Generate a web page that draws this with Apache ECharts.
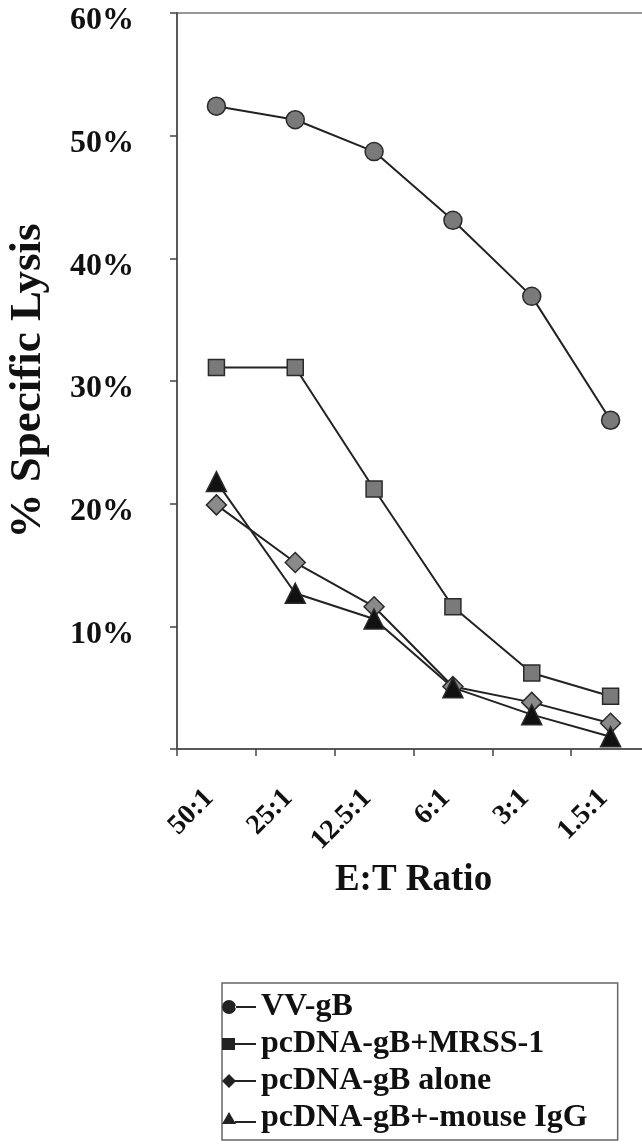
<!DOCTYPE html>
<html>
<head>
<meta charset="utf-8">
<script src="https://cdn.jsdelivr.net/npm/echarts@6/dist/echarts.min.js"></script>
<style>
  html, body { margin: 0; padding: 0; background: #fff; }
  #chart { width: 642px; height: 1146px; }
</style>
</head>
<body>
<div id="chart"></div>
<script>
// E:T ratios on the x axis
const ratios = ["50:1", "25:1", "12.5:1", "6:1", "3:1", "1.5:1"];

// % specific lysis
const vvGB = [52.4, 51.3, 48.7, 43.1, 36.9, 26.8];
const gbMrss = [31.1, 31.1, 21.2, 11.6, 6.2, 4.3];
const gbAlone = [19.9, 15.2, 11.6, 5.1, 3.8, 2.1];
const gbMouseIgG = [21.8, 12.7, 10.6, 5.0, 2.8, 1.0];

const seriesNames = ["VV-gB", "pcDNA-gB+MRSS-1", "pcDNA-gB alone", "pcDNA-gB+-mouse IgG"];

const FONT = "'Liberation Serif', 'Times New Roman', serif";
const LINE = "#222";

// legend icons: marker on the left, short line to the right
const legendIcons = [
  "path://M0,7a7,7 0 1,0 14,0a7,7 0 1,0 -14,0ZM13,6L34,6L34,8L13,8Z",
  "path://M0,1L13,1L13,13L0,13ZM13,6L34,6L34,8L13,8Z",
  "path://M0,7L7,0L14,7L7,14ZM13,6L34,6L34,8L13,8Z",
  "path://M0,13L7,1L14,13ZM13,10L34,10L34,12L13,12Z",
];

function makeSeries(name, data, symbol, size, fill) {
  return {
    name,
    type: "line",
    data,
    symbol,
    symbolSize: size,
    showAllSymbol: true,
    lineStyle: { color: LINE, width: 2 },
    itemStyle: { color: fill, borderColor: "#2a2a2a", borderWidth: 1.5 },
    emphasis: { disabled: true },
    z: 3,
  };
}

const chart = echarts.init(document.getElementById("chart"));

chart.setOption({
  backgroundColor: "#fff",
  animation: false,
  grid: {
    left: 177,
    top: 13,
    width: 473,
    height: 736,
    containLabel: false,
    outerBoundsMode: "none",
    show: true,
    borderColor: "#777",
    borderWidth: 1.5,
    backgroundColor: "transparent",
  },
  xAxis: {
    type: "category",
    data: ratios,
    boundaryGap: true,
    name: "E:T Ratio",
    nameLocation: "middle",
    nameGap: 108,
    nameTextStyle: { fontFamily: FONT, fontWeight: "bold", fontSize: 37, color: "#111" },
    axisLine: { lineStyle: { color: "#444", width: 1.5 } },
    axisTick: { show: true, length: 7, lineStyle: { color: "#444", width: 1.5 } },
    axisLabel: {
      rotate: 45,
      margin: 38,
      padding: [0, 10, 0, 0],
      fontFamily: FONT,
      fontWeight: "bold",
      fontSize: 28,
      color: "#111",
    },
    splitLine: { show: false },
  },
  yAxis: {
    type: "value",
    min: 0,
    max: 60,
    interval: 10,
    name: "% Specific Lysis",
    nameLocation: "middle",
    nameGap: 126,
    nameTextStyle: { fontFamily: FONT, fontWeight: "bold", fontSize: 45, color: "#111" },
    axisLine: { show: true, lineStyle: { color: "#444", width: 1.5 } },
    axisTick: { show: true, length: 7, lineStyle: { color: "#444", width: 1.5 } },
    axisLabel: {
      margin: 43,
      fontFamily: FONT,
      fontWeight: "bold",
      fontSize: 32,
      color: "#111",
      verticalAlign: "top",
      lineHeight: 16,
      formatter: (v) => (v === 0 ? "" : v + "%"),
    },
    splitLine: { show: false },
  },
  legend: {
    orient: "vertical",
    left: 222,
    top: 983,
    padding: [8, 30, 6, 0],
    itemGap: 5,
    itemWidth: 34,
    itemHeight: 14,
    borderColor: "#666",
    borderWidth: 1.5,
    backgroundColor: "#fff",
    textStyle: { fontFamily: FONT, fontWeight: "bold", fontSize: 32, lineHeight: 32, color: "#111" },
    data: seriesNames.map((name, i) => ({
      name,
      icon: legendIcons[i],
      itemStyle: { color: "#222", borderWidth: 0 },
    })),
  },
  series: [
    makeSeries(seriesNames[0], vvGB, "circle", 18, "#7a7a7a"),
    makeSeries(seriesNames[1], gbMrss, "rect", 16, "#7a7a7a"),
    makeSeries(seriesNames[2], gbAlone, "diamond", 20, "#8a8a8a"),
    makeSeries(seriesNames[3], gbMouseIgG, "triangle", 20, "#111"),
  ],
});
</script>
</body>
</html>
